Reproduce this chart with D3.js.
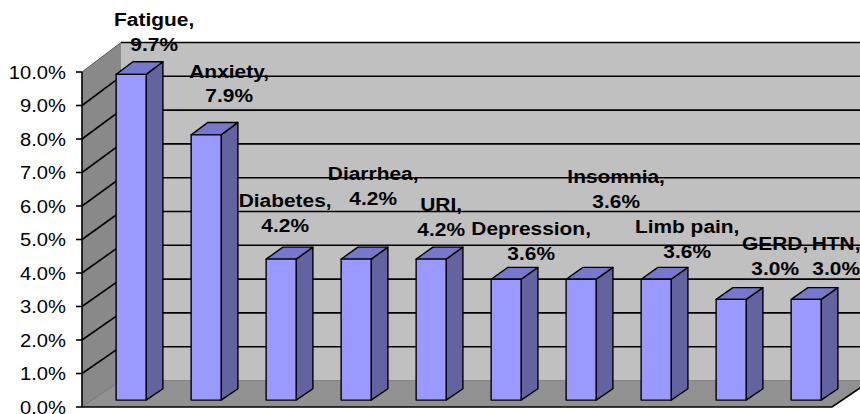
<!DOCTYPE html>
<html>
<head>
<meta charset="utf-8">
<script src="https://cdn.jsdelivr.net/npm/d3@7"></script>
<style>
  html, body { margin: 0; padding: 0; background: #ffffff; }
  svg { display: block; }
  text { font-family: "Liberation Sans", Arial, sans-serif; fill: #000; }
</style>
</head>
<body>
<svg id="chart" width="860" height="414"></svg>
<script>
// ---- data ----
const categories = ["Fatigue", "Anxiety", "Diabetes", "Diarrhea", "URI",
                    "Depression", "Insomnia", "Limb pain", "GERD", "HTN"];
const values = [9.7, 7.9, 4.2, 4.2, 4.2, 3.6, 3.6, 3.6, 3.0, 3.0];
const yTicks = [0, 1, 2, 3, 4, 5, 6, 7, 8, 9, 10];

// ---- layout (label offsets relative to the bar top, in px) ----
const labelShift = [[23, -48], [23, -57], [4, -52], [17, -79], [10, -48],
                    [25, -44], [35, -96], [31, -46], [44, -49], [30, -49]];

const svg = d3.select("#chart");
const DX = 39;            // depth shift in x (front -> back)
const D1 = 0.26, D2 = 0.69; // bar depth span

const x = d3.scaleBand().domain(categories).range([82, 832]);
const yF = d3.scaleLinear().domain([0, 10]).range([407, 72]);   // front plane
const yB = d3.scaleLinear().domain([0, 10]).range([380.5, 42.5]); // back plane

function P(xf, v, d) {
  return [xf + d * DX, yF(v) + d * (yB(v) - yF(v))];
}
const poly = pts => pts.map(p => p.join(",")).join(" ");

const x0 = x.range()[0], x1 = x.range()[1];

// back wall
svg.append("polygon")
  .attr("points", poly([P(x0, 10, 1), P(x1, 10, 1), P(x1, 0, 1), P(x0, 0, 1)]))
  .attr("fill", "#c0c0c0");
// side wall
svg.append("polygon")
  .attr("points", poly([P(x0, 10, 0), P(x0, 10, 1), P(x0, 0, 1), P(x0, 0, 0)]))
  .attr("fill", "#898989");
// floor
svg.append("polygon")
  .attr("points", poly([P(x0, 0, 0), P(x1, 0, 0), P(x1, 0, 1), P(x0, 0, 1)]))
  .attr("fill", "#919191");

// gridlines
yTicks.filter(t => t > 0).forEach(t => {
  svg.append("polyline")
    .attr("points", poly([P(x0, t, 0), P(x0, t, 1)]))
    .attr("fill", "none")
    .attr("stroke", t === 10 ? "#555" : "#000")
    .attr("stroke-width", t === 10 ? 1 : 1.6);
  svg.append("polyline")
    .attr("points", poly([P(x0, t, 1), P(x1, t, 1)]))
    .attr("fill", "none").attr("stroke", "#000").attr("stroke-width", 1.6);
});
// floor edges
svg.append("polyline").attr("points", poly([P(x0, 0, 0), P(x0, 0, 1)]))
  .attr("fill", "none").attr("stroke", "#6a6a6a").attr("stroke-width", 0.8);
svg.append("polyline").attr("points", poly([P(x0, 0, 1), P(x1, 0, 1)]))
  .attr("fill", "none").attr("stroke", "#777").attr("stroke-width", 0.8);
svg.append("polyline").attr("points", poly([P(x0, 0, 0), P(x1, 0, 0), P(x1, 0, 1)]))
  .attr("fill", "none").attr("stroke", "#000").attr("stroke-width", 1.6);

// axis
svg.append("line")
  .attr("x1", x0).attr("x2", x0).attr("y1", yF(0)).attr("y2", yF(10))
  .attr("stroke", "#000").attr("stroke-width", 1.6);
const tickG = svg.append("g");
yTicks.forEach(t => {
  tickG.append("line").attr("x1", x0 - 6).attr("x2", x0).attr("y1", yF(t)).attr("y2", yF(t))
    .attr("stroke", "#000").attr("stroke-width", 1.6);
  tickG.append("g").attr("transform", `translate(${x0 - 16},${yF(t)}) scale(1.09,1)`)
    .append("text").attr("text-anchor", "end").attr("dy", "0.36em")
    .style("font-size", "18.5px").text(d3.format(".1f")(t) + "%");
});

// bars
const bw = x.bandwidth();
const barG = svg.append("g");
categories.forEach((c, i) => {
  const v = values[i];
  const L = x(c) + bw * 0.32, R = L + bw * 0.4;
  const g = barG.append("g").attr("stroke", "#000").attr("stroke-width", 1.4)
    .attr("stroke-linejoin", "round");
  // side
  g.append("polygon").attr("points", poly([P(R, v, D1), P(R, v, D2), P(R, 0, D2), P(R, 0, D1)]))
    .attr("fill", "#63639f");
  // top
  g.append("polygon").attr("points", poly([P(L, v, D1), P(R, v, D1), P(R, v, D2), P(L, v, D2)]))
    .attr("fill", "#7777cc");
  // front
  g.append("polygon").attr("points", poly([P(L, v, D1), P(R, v, D1), P(R, 0, D1), P(L, 0, D1)]))
    .attr("fill", "#9999ff");
});

// labels
const labG = svg.append("g");
categories.forEach((c, i) => {
  const v = values[i];
  const L = x(c) + bw * 0.32, R = L + bw * 0.4;
  const top = P((L + R) / 2, v, D1);
  const cx = top[0] + labelShift[i][0], cy = top[1] + labelShift[i][1];
  const g = labG.append("g").attr("transform", `translate(${cx},${cy}) scale(1.1,1)`);
  g.append("text").attr("text-anchor", "middle").style("font-size", "19px")
    .style("font-weight", "bold").text(c + ",");
  g.append("text").attr("text-anchor", "middle").attr("y", 24.5).style("font-size", "19px")
    .style("font-weight", "bold").text(d3.format(".1f")(v) + "%");
});
</script>
</body>
</html>
